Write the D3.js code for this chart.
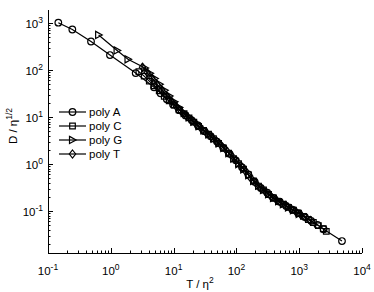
<!DOCTYPE html>
<html>
<head>
<meta charset="utf-8">
<script src="https://cdn.jsdelivr.net/npm/d3@7"></script>
<style>
  body { margin: 0; background: #fff; }
  text { font-family: "Liberation Sans", Arial, sans-serif; fill: #000; }
</style>
</head>
<body>
<svg id="chart" width="374" height="292"></svg>
<script>
// series values, [T/eta^2, D/eta^(1/2)]
var seriesNames = ["poly A", "poly C", "poly G", "poly T"];
var polyA = [[0.146, 1015], [0.244, 727], [0.484, 404], [0.97, 208], [2.49, 86], [4.88, 43],
  [6.2, 32], [7.8, 24], [9.8, 18.4], [12.3, 14], [15.5, 10.8], [19.5, 8.5], [24.5, 6.6], [31, 5.0],
  [39, 3.9], [49, 3.0], [62, 2.2], [78, 1.65], [98, 1.2], [123, 0.85], [155, 0.6], [195, 0.42],
  [245, 0.31], [310, 0.245], [390, 0.19], [490, 0.158], [620, 0.128], [780, 0.107], [980, 0.09],
  [1230, 0.075], [1550, 0.062], [1950, 0.051], [2450, 0.041], [4800, 0.023]];
var polyC = [[2.8, 92], [3.4, 74], [4.1, 58], [4.9, 46], [5.9, 36], [7.1, 27.5], [8.5, 22],
  [10.2, 18], [12.2, 14.2], [14.7, 11.8], [17.6, 9.6], [21, 7.8], [25, 6.3], [30, 5.2], [36, 4.3],
  [43, 3.45], [52, 2.75], [62, 2.2], [75, 1.7], [90, 1.3], [108, 1.02], [130, 0.78], [156, 0.59],
  [187, 0.44], [225, 0.34], [270, 0.28], [325, 0.225], [390, 0.19], [470, 0.16], [560, 0.14],
  [675, 0.12], [810, 0.104], [970, 0.09], [1170, 0.077], [1400, 0.066], [1680, 0.057],
  [2020, 0.049], [2420, 0.042], [2700, 0.037]];
var polyG = [[0.64, 556], [1.26, 260], [1.88, 169], [3.5, 110], [4.2, 85], [5.0, 66], [6.0, 50],
  [7.2, 37], [8.6, 28], [10.3, 21], [12.3, 16], [14.8, 12.2], [17.7, 9.9], [21, 8.0], [25.5, 6.4],
  [30.5, 5.2], [36.5, 4.25], [44, 3.45], [53, 2.75], [63, 2.2], [76, 1.7], [91, 1.3], [109, 1.0],
  [131, 0.77], [157, 0.58], [188, 0.44], [226, 0.345], [270, 0.28], [325, 0.23], [390, 0.19],
  [470, 0.162], [560, 0.14], [675, 0.12], [810, 0.104], [1000, 0.087]];
var polyT = [[3.2, 115], [3.8, 88], [4.5, 68], [5.4, 50], [6.5, 38], [7.8, 28], [9.3, 21.5],
  [11.1, 16.5], [13.3, 13], [16, 10.6], [19, 8.7], [23, 7.0], [27.5, 5.7], [33, 4.6], [40, 3.8],
  [48, 3.1], [57, 2.5], [68, 2.0], [82, 1.55], [98, 1.2], [118, 0.92], [141, 0.69], [170, 0.5],
  [204, 0.39], [245, 0.31], [295, 0.255], [355, 0.205], [425, 0.177], [510, 0.15], [610, 0.132],
  [735, 0.113], [880, 0.098], [1060, 0.083], [1270, 0.072], [1500, 0.063]];
var xTicks = [0.1, 1, 10, 100, 1000, 10000];
var xExps = ["-1", "0", "1", "2", "3", "4"];
var yTicks = [0.1, 1, 10, 100, 1000];
var yExps = ["-1", "0", "1", "2", "3"];

var svg = d3.select("#chart");
var x = d3.scaleLog().domain([0.1, 10000]).range([48, 362]);
var y = d3.scaleLog().domain([0.0128, 1890]).range([253, 10]);

// marker shapes
var markers = {
  "poly A": "M3.3,0A3.3,3.3 0 1,1 -3.3,0A3.3,3.3 0 1,1 3.3,0Z",
  "poly C": "M-2.8,-2.8L2.8,-2.8L2.8,2.8L-2.8,2.8Z",
  "poly G": "M-3,-3.6L3.6,0L-3,3.6Z",
  "poly T": "M0,-4L3.2,0L0,4L-3.2,0Z"
};
var allData = {"poly A": polyA, "poly C": polyC, "poly G": polyG, "poly T": polyT};

// minor ticks
function minorTicks(lo, hi) {
  var out = [];
  for (var e = lo; e < hi; e++) {
    for (var m = 2; m <= 9; m++) out.push(m * Math.pow(10, e));
  }
  return out;
}
var xMinor = minorTicks(-1, 4);
var yMinor = minorTicks(-2, 4).filter(function(v) { return v >= 0.0128 && v <= 1890; });

var axes = svg.append("g").attr("stroke", "#000").attr("stroke-width", 1);
axes.append("line").attr("x1", 48).attr("x2", 362).attr("y1", 253.5).attr("y2", 253.5);
axes.append("line").attr("x1", 48.5).attr("x2", 48.5).attr("y1", 10).attr("y2", 253.5);

axes.selectAll(".xmaj").data(xTicks).enter().append("line")
  .attr("x1", function(d) { return Math.round(x(d)) + 0.5; })
  .attr("x2", function(d) { return Math.round(x(d)) + 0.5; })
  .attr("y1", 253).attr("y2", 248);
axes.selectAll(".xmin").data(xMinor).enter().append("line")
  .attr("x1", function(d) { return Math.round(x(d)) + 0.5; })
  .attr("x2", function(d) { return Math.round(x(d)) + 0.5; })
  .attr("y1", 253).attr("y2", 250.5);
axes.selectAll(".ymaj").data(yTicks).enter().append("line")
  .attr("y1", function(d) { return Math.round(y(d)) + 0.5; })
  .attr("y2", function(d) { return Math.round(y(d)) + 0.5; })
  .attr("x1", 48).attr("x2", 53);
axes.selectAll(".ymin").data(yMinor).enter().append("line")
  .attr("y1", function(d) { return Math.round(y(d)) + 0.5; })
  .attr("y2", function(d) { return Math.round(y(d)) + 0.5; })
  .attr("x1", 48).attr("x2", 50.5);

// tick labels
var xl = svg.selectAll(".xl").data(xTicks).enter().append("text")
  .attr("x", function(d) { return x(d); })
  .attr("y", 275)
  .attr("text-anchor", "middle")
  .attr("font-size", 11.5);
xl.append("tspan").text("10");
xl.append("tspan").attr("dy", -5).attr("font-size", 8.5).text(function(d, i) { return xExps[i]; });

var yl = svg.selectAll(".yl").data(yTicks).enter().append("text")
  .attr("x", 43)
  .attr("y", function(d) { return y(d) + 5; })
  .attr("text-anchor", "end")
  .attr("font-size", 11.5);
yl.append("tspan").text("10");
yl.append("tspan").attr("dy", -5).attr("font-size", 8.5).text(function(d, i) { return yExps[i]; });

// axis titles
var xt = svg.append("text").attr("x", 200).attr("y", 288).attr("text-anchor", "middle").attr("font-size", 11.5);
xt.append("tspan").text("T / \u03b7");
xt.append("tspan").attr("dy", -5).attr("font-size", 8.5).text("2");

var yt = svg.append("text").attr("transform", "translate(17,126) rotate(-90)")
  .attr("text-anchor", "middle").attr("font-size", 11.5);
yt.append("tspan").text("D / \u03b7");
yt.append("tspan").attr("dy", -5).attr("font-size", 8.5).text("1/2");

// series
var line = d3.line().x(function(d) { return x(d[0]); }).y(function(d) { return y(d[1]); });
seriesNames.forEach(function(name) {
  var g = svg.append("g");
  g.append("path").datum(allData[name]).attr("d", line)
    .attr("fill", "none").attr("stroke", "#000").attr("stroke-width", 1.2);
  g.selectAll("path.m").data(allData[name]).enter().append("path")
    .attr("class", "m")
    .attr("d", markers[name])
    .attr("transform", function(d) { return "translate(" + x(d[0]) + "," + y(d[1]) + ")"; })
    .attr("fill", "none").attr("stroke", "#000").attr("stroke-width", 1.2);
});

// legend
var legend = svg.selectAll(".leg").data(seriesNames).enter().append("g")
  .attr("transform", function(d, i) { return "translate(0," + (112 + i * 14) + ")"; });
legend.append("line").attr("x1", 59).attr("x2", 86).attr("y1", 0).attr("y2", 0)
  .attr("stroke", "#000").attr("stroke-width", 1.2);
legend.append("path").attr("d", function(d) { return markers[d]; })
  .attr("transform", "translate(72.5,0)")
  .attr("fill", "none").attr("stroke", "#000").attr("stroke-width", 1.2);
legend.append("text").attr("x", 89).attr("y", 4).attr("font-size", 11.5).text(function(d) { return d; });
</script>
</body>
</html>
